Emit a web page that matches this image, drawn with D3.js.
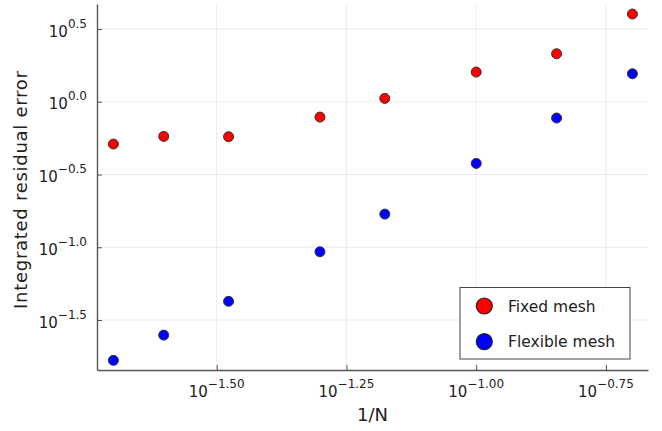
<!DOCTYPE html>
<html>
<head>
<meta charset="utf-8">
<script src="https://cdn.jsdelivr.net/npm/d3@7"></script>
<style>
  body { margin: 0; background: #fff; }
  text { font-family: "DejaVu Sans", sans-serif; fill: #222; }
</style>
</head>
<body>
<div class="chart"></div>
<script>
// data
const N = [50, 40, 30, 20, 15, 10, 7, 5];
const fixedMesh = [0.512, 0.578, 0.575, 0.785, 1.055, 1.600, 2.138, 4.008];
const flexibleMesh = [0.0167, 0.0249, 0.0425, 0.0931, 0.169, 0.377, 0.773, 1.557];
const xTickExp = [-1.50, -1.25, -1.00, -0.75];
const yTickExp = [-1.5, -1.0, -0.5, 0.0, 0.5];
const seriesNames = ["Fixed mesh", "Flexible mesh"];
const seriesColors = ["#ff0000", "#0000ff"];

const W = 662, H = 431;
const pL = 97, pR = 648, pT = 4, pB = 370;

var svg = d3.select(".chart")
            .append("svg")
            .attr("width", W)
            .attr("height", H);

var x = d3.scaleLog().domain([Math.pow(10, -1.7306), Math.pow(10, -0.669)]).range([pL, pR]);
var y = d3.scaleLog().domain([Math.pow(10, -1.8436), Math.pow(10, 0.672)]).range([pB, pT]);

const minus = s => s.replace("-", "\u2212");

//** grid */
svg.append("g").selectAll("line").data(xTickExp).enter().append("line")
  .attr("x1", d => x(Math.pow(10, d))).attr("x2", d => x(Math.pow(10, d)))
  .attr("y1", pT).attr("y2", pB)
  .attr("stroke", "#000").attr("stroke-opacity", 0.1).attr("stroke-width", 0.8);
svg.append("g").selectAll("line").data(yTickExp).enter().append("line")
  .attr("x1", pL).attr("x2", pR)
  .attr("y1", d => y(Math.pow(10, d))).attr("y2", d => y(Math.pow(10, d)))
  .attr("stroke", "#000").attr("stroke-opacity", 0.1).attr("stroke-width", 0.8);

//** axes */
var xAxis = svg.append("g")
  .attr("transform", `translate(0,${pB})`)
  .call(d3.axisBottom(x).tickValues(xTickExp.map(d => Math.pow(10, d)))
        .tickSizeInner(-5).tickSizeOuter(0).tickFormat(""));
var yAxis = svg.append("g")
  .attr("transform", `translate(${pL},0)`)
  .call(d3.axisLeft(y).tickValues(yTickExp.map(d => Math.pow(10, d)))
        .tickSizeInner(-5).tickSizeOuter(0).tickFormat(""));
[xAxis, yAxis].forEach(a => {
  a.select(".domain").attr("stroke", "#555").attr("stroke-width", 1.4);
  a.selectAll(".tick line").attr("stroke", "#555").attr("stroke-width", 1);
});

// tick labels 10^e
xTickExp.forEach(e => {
  var t = svg.append("text")
    .attr("x", x(Math.pow(10, e))).attr("y", 396.5)
    .attr("text-anchor", "middle").style("font-size", "15px");
  t.append("tspan").text("10");
  t.append("tspan").attr("dy", -9).style("font-size", "12px").text(minus(e.toFixed(2)));
});
yTickExp.forEach(e => {
  var t = svg.append("text")
    .attr("x", 87).attr("y", y(Math.pow(10, e)) + 7.7)
    .attr("text-anchor", "end").style("font-size", "15px");
  t.append("tspan").text("10");
  t.append("tspan").attr("dy", -9).style("font-size", "12px").text(minus(e.toFixed(1)));
});

//** axis labels */
svg.append("text")
  .attr("x", (pL + pR) / 2).attr("y", 421)
  .attr("text-anchor", "middle").style("font-size", "18px")
  .text("1/N");
svg.append("text")
  .attr("transform", `translate(27,190) rotate(-90)`)
  .attr("text-anchor", "middle").style("font-size", "18px")
  .attr("textLength", 238).attr("lengthAdjust", "spacing")
  .text("Integrated residual error");

//** points */
[fixedMesh, flexibleMesh].forEach((vals, s) => {
  svg.append("g").selectAll("circle").data(vals).enter().append("circle")
    .attr("cx", (d, i) => x(1 / N[i]))
    .attr("cy", d => y(d))
    .attr("r", 5)
    .attr("fill", seriesColors[s])
    .attr("stroke", "#333")
    .attr("stroke-width", 1);
});

//** legend */
var lg = svg.append("g");
lg.append("rect")
  .attr("x", 460).attr("y", 287.5).attr("width", 170).attr("height", 71.5)
  .attr("fill", "#fff").attr("stroke", "#444").attr("stroke-width", 1);
seriesNames.forEach((name, i) => {
  lg.append("circle")
    .attr("cx", 484.3).attr("cy", 306 + i * 35.7).attr("r", 8)
    .attr("fill", seriesColors[i]).attr("stroke", "#222").attr("stroke-width", 1.2);
  lg.append("text")
    .attr("x", 508).attr("y", 311.5 + i * 35.8)
    .style("font-size", "15.5px")
    .text(name);
});
</script>
</body>
</html>
